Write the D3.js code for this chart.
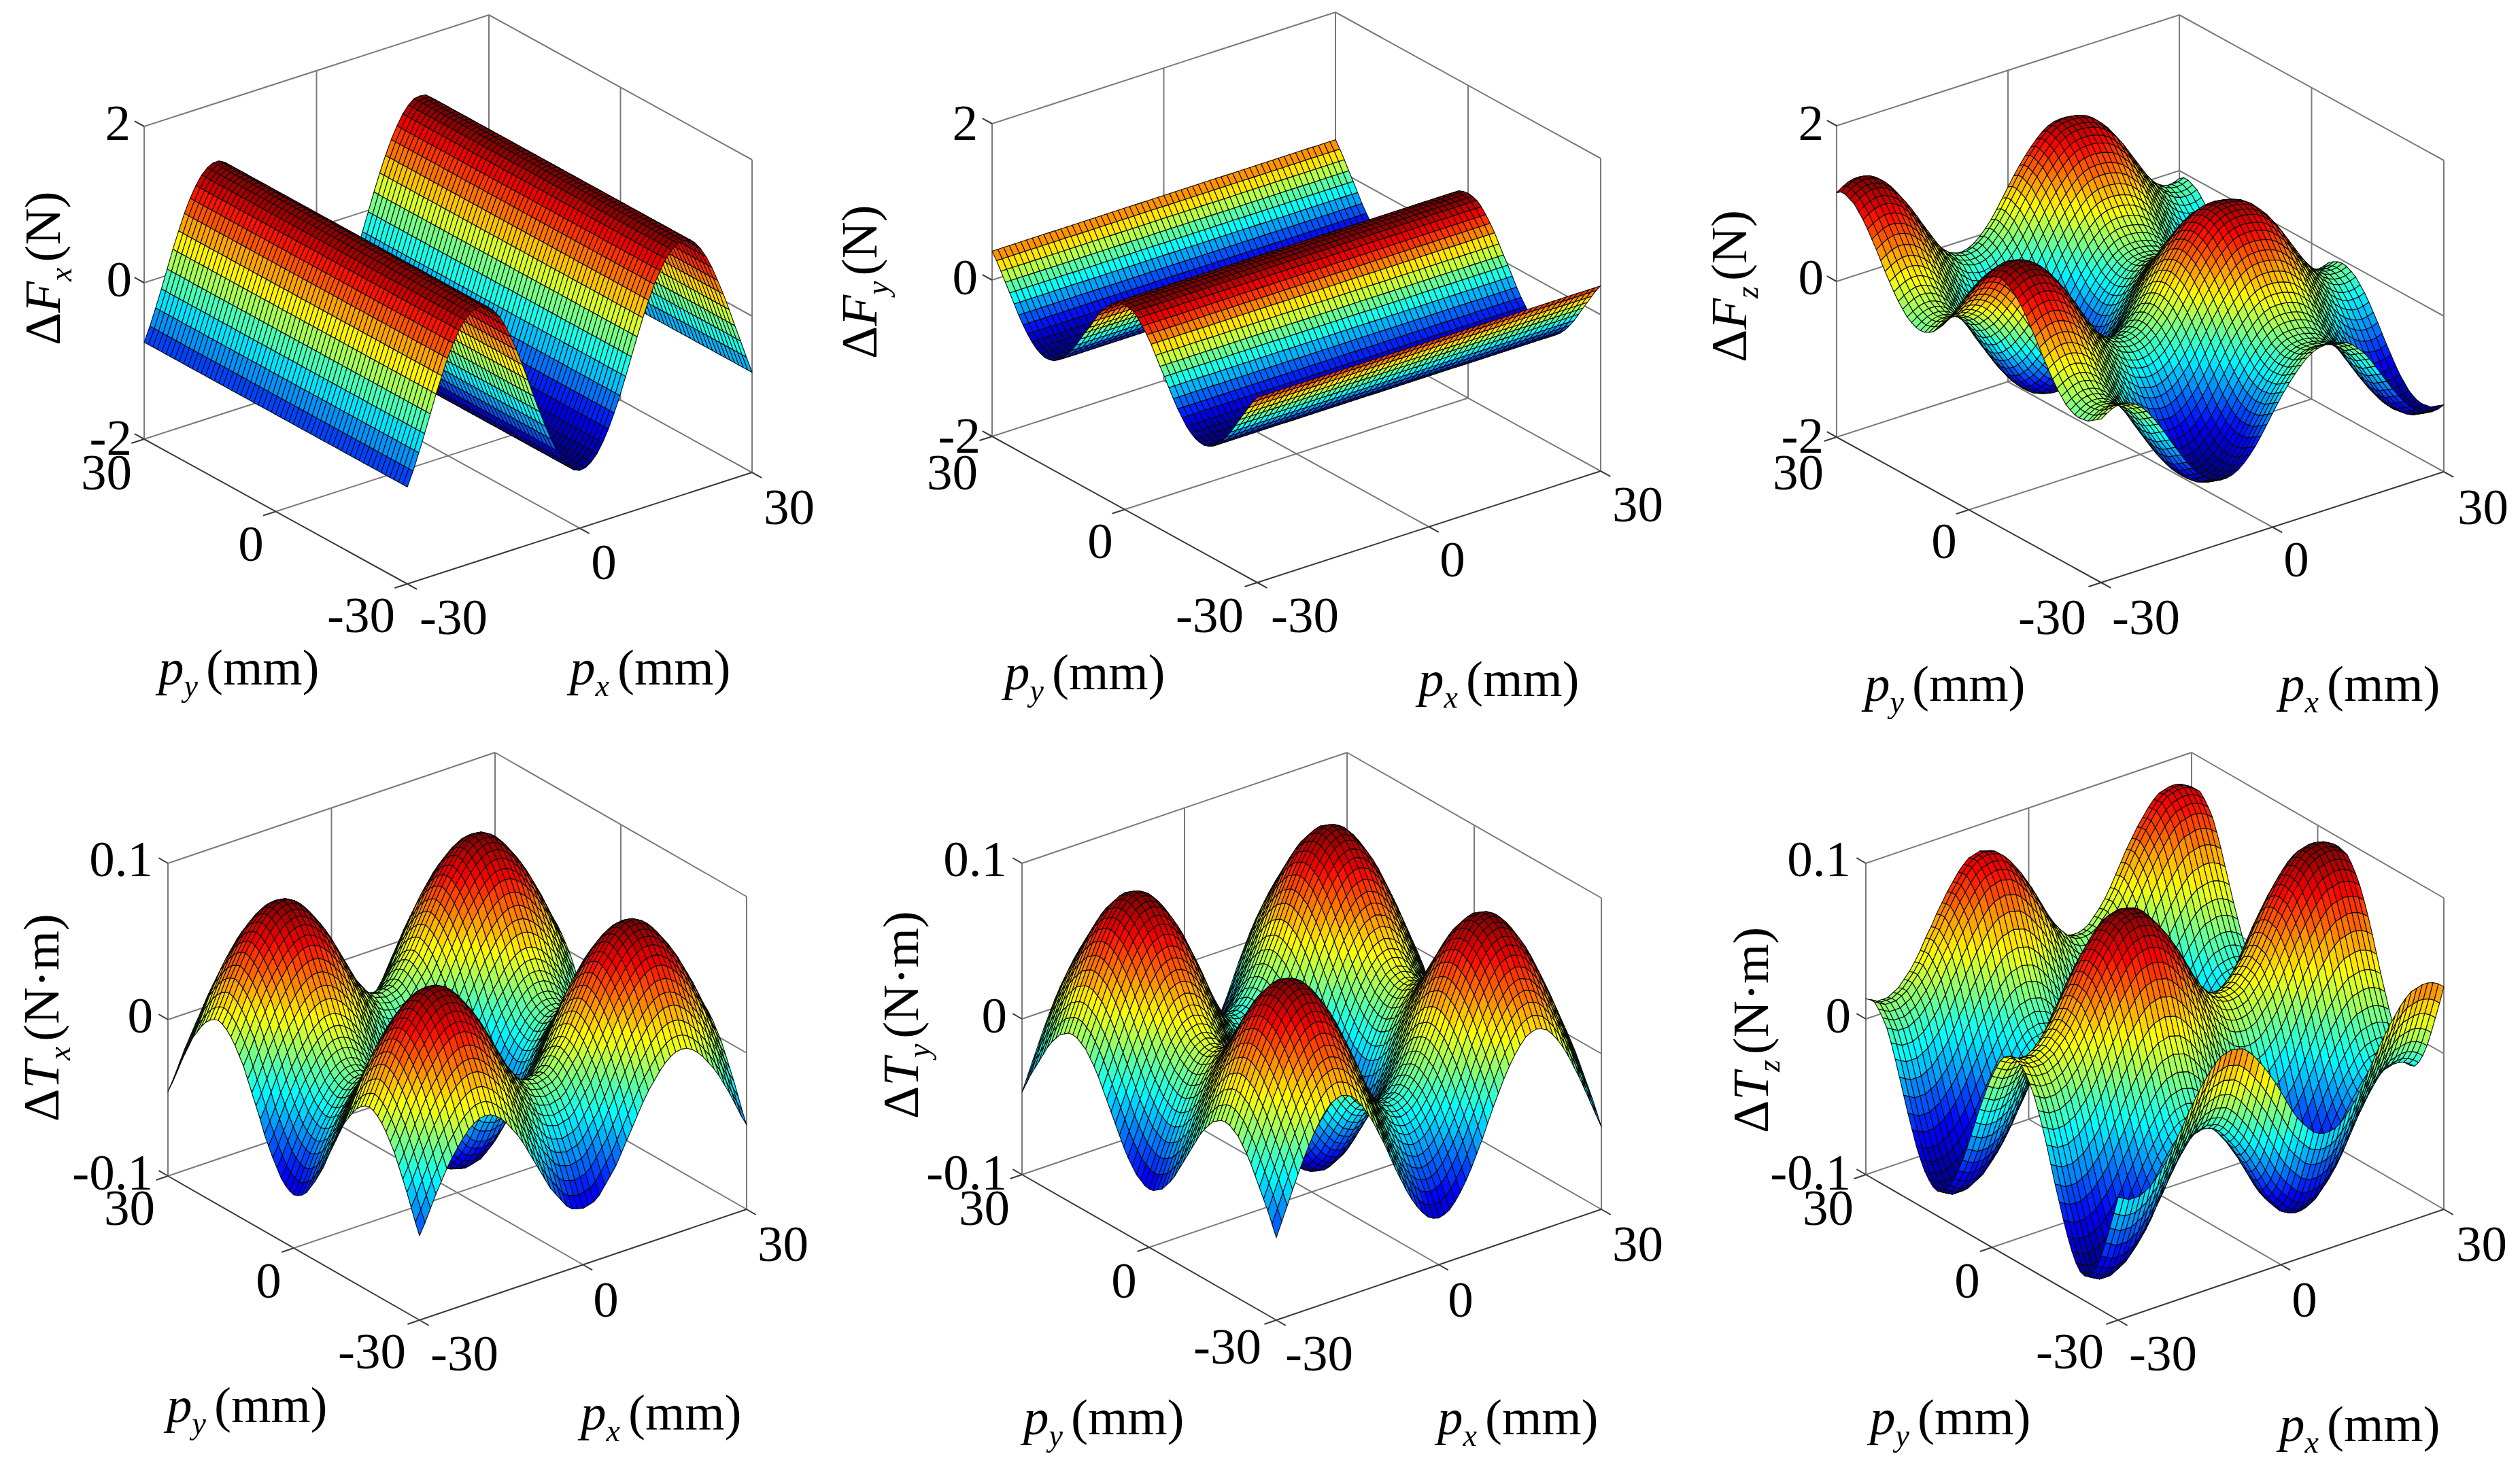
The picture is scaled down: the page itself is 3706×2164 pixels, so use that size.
<!DOCTYPE html>
<html>
<head>
<meta charset="utf-8">
<title>Force and torque error surfaces</title>
<script src="https://cdn.jsdelivr.net/npm/d3@7/dist/d3.min.js"></script>
<style>
html, body { margin: 0; padding: 0; background: #fff; }
svg { display: block; filter: blur(0.7px); }
text { font-family: "Liberation Serif", "Times New Roman", serif; fill: #000; }
</style>
</head>
<body>
<div id="chart"></div>
<script>
// grid positions, mm (1 mm step, index 0 is -30)
var gridMm = d3.range(-30, 31);
var positionTicks = [-30, 0, 30];
var forceTicks = [-2, 0, 2];
var torqueTicks = [-0.1, 0, 0.1];

// Profiles. Each surface is read as a profile along px
// plus a profile along py; dFx only changes with px and dFy only with py.
var dFxAlongPx = [-.76,-.58,-.37,-.15,.08,.31,.52,.72,.89,1.03,1.14,1.21,1.25,1.25,1.21,1.14,1.04,.90,.73,.54,.33,.11,-.12,-.34,-.55,-.74,-.91,-1.05,-1.16,-1.23,-1.26,-1.25,-1.20,-1.12,-1.00,-.85,-.67,-.47,-.25,-.02,.21,.43,.63,.81,.96,1.09,1.18,1.24,1.25,1.24,1.18,1.08,.95,.79,.60,.40,.18,-.05,-.27,-.50,-.72];

var dFyAlongPy = [.37,.28,.175,.065,-.04,-.15,-.26,-.355,-.44,-.51,-.565,-.60,-.62,-.615,-.595,-.555,-.50,-.42,-.34,-.24,-.13,-.02,.08,.19,.30,.39,.47,.54,.59,.61,.62,.61,.59,.54,.47,.39,.30,.19,.08,-.02,-.13,-.24,-.34,-.42,-.50,-.555,-.595,-.615,-.62,-.60,-.565,-.51,-.44,-.355,-.26,-.15,-.04,.065,.175,.28,.37];

var dFzAlongPx = [.58,.63,.67,.69,.69,.67,.63,.57,.49,.39,.28,.16,.03,-.09,-.21,-.33,-.43,-.52,-.59,-.65,-.68,-.70,-.70,-.68,-.64,-.58,-.50,-.41,-.30,-.18,-.06,.06,.17,.27,.36,.44,.51,.56,.59,.60,.60,.59,.57,.54,.49,.42,.34,.24,.12,0,-.12,-.24,-.35,-.45,-.54,-.61,-.66,-.69,-.70,-.69,-.66];
var dFzAlongPy = [-.48,-.52,-.56,-.60,-.61,-.62,-.61,-.58,-.54,-.47,-.40,-.31,-.21,-.11,0,.11,.21,.31,.40,.47,.54,.58,.61,.62,.61,.58,.54,.47,.40,.31,.21,.11,0,-.11,-.21,-.31,-.40,-.47,-.54,-.58,-.61,-.62,-.61,-.58,-.54,-.47,-.40,-.31,-.21,-.11,0,.11,.21,.31,.40,.47,.54,.57,.60,.60,.56];

var dTxAlongPx = [-.023,-.016,-.008,.000,.007,.014,.020,.025,.030,.034,.037,.039,.0395,.039,.037,.034,.030,.025,.020,.014,.007,.000,-.007,-.014,-.021,-.026,-.031,-.036,-.039,-.040,-.041,-.040,-.039,-.036,-.031,-.026,-.021,-.014,-.007,.000,.007,.014,.020,.025,.030,.034,.037,.039,.0395,.039,.037,.034,.030,.025,.020,.014,.007,.000,-.008,-.016,-.023];
var dTxAlongPy = [-.023,-.016,-.008,.000,.007,.014,.021,.026,.031,.035,.038,.040,.041,.040,.038,.035,.031,.026,.021,.014,.007,.000,-.007,-.015,-.021,-.027,-.032,-.037,-.040,-.042,-.043,-.042,-.040,-.037,-.032,-.027,-.021,-.015,-.007,.000,.007,.014,.021,.026,.031,.035,.038,.040,.041,.040,.038,.035,.031,.026,.021,.014,.007,.000,-.008,-.016,-.023];

var dTyAlongPx = [-.027,-.018,-.009,.000,.009,.017,.025,.032,.038,.043,.047,.049,.050,.049,.047,.043,.038,.032,.025,.017,.009,.000,-.009,-.017,-.025,-.032,-.038,-.043,-.047,-.049,-.050,-.049,-.047,-.043,-.038,-.032,-.025,-.017,-.009,.000,.009,.017,.025,.032,.038,.043,.047,.049,.050,.049,.047,.043,.038,.032,.025,.017,.009,.000,-.009,-.018,-.027];
var dTyAlongPy = [-.020,-.013,-.006,.000,.006,.012,.018,.023,.027,.031,.033,.035,.0355,.035,.033,.031,.027,.023,.018,.012,.006,.000,-.006,-.012,-.018,-.023,-.027,-.031,-.033,-.035,-.0355,-.035,-.033,-.031,-.027,-.023,-.018,-.012,-.006,.000,.006,.012,.018,.023,.027,.031,.033,.035,.0355,.035,.033,.031,.027,.023,.018,.012,.006,.000,-.006,-.013,-.020];

var dTzAlongPx = [-.027,-.029,-.031,-.031,-.031,-.029,-.027,-.023,-.019,-.014,-.008,-.001,.005,.012,.018,.024,.029,.034,.038,.041,.042,.043,.042,.041,.038,.034,.029,.024,.018,.012,.005,-.002,-.009,-.015,-.020,-.024,-.028,-.030,-.031,-.031,-.030,-.028,-.024,-.020,-.015,-.009,-.002,.005,.012,.018,.024,.029,.034,.038,.041,.042,.043,.043,.042,.040,.037];
var dTzAlongPy = [.006,-.006,-.017,-.028,-.038,-.046,-.052,-.056,-.057,-.056,-.052,-.046,-.038,-.029,-.019,-.009,.002,.013,.023,.032,.040,.046,.051,.055,.056,.057,.056,.054,.050,.044,.037,.029,.020,.011,.001,-.009,-.019,-.028,-.036,-.043,-.049,-.053,-.056,-.057,-.056,-.053,-.049,-.043,-.036,-.027,-.018,-.008,.002,.012,.021,.029,.034,.038,.041,.041,.040];

// jet colormap stops
var jetStops = [0, .125, .375, .625, .875, 1];
var jetColors = ['#00008f', '#0000ff', '#00ffff', '#ffff00', '#ff0000', '#800000'];
var jetLevels = 64;

var width = 3706;
var height = 2164;
var fontSize = 75;
var subSize = 46;
var greyLine = '#7a7a7a';
var darkLine = '#3a3a3a';

// box corners in page pixels, then where the texts sit
var panels = [
    {symbol: 'F', sub: 'x', unit: '(N)', alongPx: dFxAlongPx, alongPy: null, zTicks: forceTicks,
     left: [212, 646], front: [599, 859], right: [1106, 695], boxHeight: 460,
     zLabels: [[194, 669], [194, 436], [192, 206]],
     pyLabels: [[581, 930], [369, 825], [194, 720]],
     pxLabels: [[617, 933], [888, 852], [1123, 771]],
     pyTitle: [233, 1007], pxTitle: [838, 1007], zTitle: [88, 508]},
    {symbol: 'F', sub: 'y', unit: '(N)', alongPx: null, alongPy: dFyAlongPy, zTicks: forceTicks,
     left: [1459, 642], front: [1849, 857], right: [2354, 693], boxHeight: 460,
     zLabels: [[1442, 666], [1438, 433], [1438, 206]],
     pyLabels: [[1829, 930], [1618, 821], [1438, 720]],
     pxLabels: [[1869, 930], [2136, 848], [2371, 767]],
     pyTitle: [1477, 1014], pxTitle: [2086, 1024], zTitle: [1289, 528]},
    {symbol: 'F', sub: 'z', unit: '(N)', alongPx: dFzAlongPx, alongPy: dFzAlongPy, zTicks: forceTicks,
     left: [2701, 643], front: [3090, 857], right: [3594, 694], boxHeight: 458,
     zLabels: [[2682, 666], [2682, 433], [2682, 206]],
     pyLabels: [[3068, 933], [2859, 821], [2682, 720]],
     pxLabels: [[3106, 933], [3377, 848], [3614, 771]],
     pyTitle: [2742, 1031], pxTitle: [3352, 1031], zTitle: [2568, 533]},
    {symbol: 'T', sub: 'x', unit: '(N·m)', alongPx: dTxAlongPx, alongPy: dTxAlongPy, zTicks: torqueTicks,
     left: [247, 1730], front: [617, 1942], right: [1098, 1779], boxHeight: 460,
     zLabels: [[225, 1750], [225, 1519], [225, 1289]],
     pyLabels: [[597, 2013], [395, 1909], [228, 1802]],
     pxLabels: [[633, 2016], [891, 1937], [1114, 1855]],
     pyTitle: [245, 2092], pxTitle: [854, 2103], zTitle: [86, 1650]},
    {symbol: 'T', sub: 'y', unit: '(N·m)', alongPx: dTyAlongPx, alongPy: dTyAlongPy, zTicks: torqueTicks,
     left: [1503, 1728], front: [1877, 1942], right: [2355, 1779], boxHeight: 458,
     zLabels: [[1481, 1750], [1481, 1519], [1481, 1289]],
     pyLabels: [[1855, 2006], [1653, 1909], [1485, 1802]],
     pxLabels: [[1890, 2016], [2148, 1937], [2371, 1855]],
     pyTitle: [1505, 2110], pxTitle: [2114, 2110], zTitle: [1350, 1646]},
    {symbol: 'T', sub: 'z', unit: '(N·m)', alongPx: dTzAlongPx, alongPy: dTzAlongPy, zTicks: torqueTicks,
     left: [2744, 1728], front: [3115, 1942], right: [3594, 1779], boxHeight: 458,
     zLabels: [[2722, 1750], [2722, 1519], [2722, 1289]],
     pyLabels: [[3094, 2013], [2893, 1909], [2726, 1802]],
     pxLabels: [[3131, 2016], [3389, 1937], [3612, 1855]],
     pyTitle: [2750, 2110], pxTitle: [3352, 2120], zTitle: [2600, 1667]}
];

var jet = d3.scaleLinear().domain(jetStops).range(jetColors);
var outline = d3.line().curve(d3.curveLinearClosed);

var svg = d3.select('#chart').append('svg')
    .attr('width', width)
    .attr('height', height)
    .attr('viewBox', '0 0 ' + width + ' ' + height);

function get_projection(panel) {
    var pxX = d3.scaleLinear().domain([-30, 30]).range([0, panel.right[0] - panel.front[0]]);
    var pxY = d3.scaleLinear().domain([-30, 30]).range([0, panel.right[1] - panel.front[1]]);
    var pyX = d3.scaleLinear().domain([-30, 30]).range([0, panel.left[0] - panel.front[0]]);
    var pyY = d3.scaleLinear().domain([-30, 30]).range([0, panel.left[1] - panel.front[1]]);
    var zY = d3.scaleLinear().domain(d3.extent(panel.zTicks)).range([0, -panel.boxHeight]);
    return function (px, py, z) {
        return [panel.front[0] + pxX(px) + pyX(py), panel.front[1] + pxY(px) + pyY(py) + zY(z)];
    };
}

function surface_value(panel, i, j) {
    return (panel.alongPx ? panel.alongPx[i] : 0) + (panel.alongPy ? panel.alongPy[j] : 0);
}

function draw_box(g, panel, project) {
    var zMin = panel.zTicks[0];
    var zMax = panel.zTicks[2];
    var lines = [
        // back walls
        [[-30, 30, zMax], [30, 30, zMax]], [[30, 30, zMax], [30, -30, zMax]],
        [[-30, 30, zMin], [30, 30, zMin]], [[30, 30, zMin], [30, -30, zMin]],
        [[-30, 30, zMin], [-30, 30, zMax]], [[30, 30, zMin], [30, 30, zMax]], [[30, -30, zMin], [30, -30, zMax]],
        // zero grid lines
        [[-30, 30, 0], [30, 30, 0]], [[30, 30, 0], [30, -30, 0]],
        [[0, 30, zMin], [0, 30, zMax]], [[30, 0, zMin], [30, 0, zMax]],
        [[0, -30, zMin], [0, 30, zMin]], [[-30, 0, zMin], [30, 0, zMin]]
    ];
    g.append('g').selectAll('line').data(lines).enter().append('line')
        .attr('x1', function (d) { return project(d[0][0], d[0][1], d[0][2])[0]; })
        .attr('y1', function (d) { return project(d[0][0], d[0][1], d[0][2])[1]; })
        .attr('x2', function (d) { return project(d[1][0], d[1][1], d[1][2])[0]; })
        .attr('y2', function (d) { return project(d[1][0], d[1][1], d[1][2])[1]; })
        .attr('stroke', greyLine)
        .attr('stroke-width', 2);

    var stub = 2.2; // tick length, in mm along the axis direction
    var axes = [[[-30, 30, zMin], [-30, -30, zMin]], [[-30, -30, zMin], [30, -30, zMin]]];
    positionTicks.forEach(function (t) {
        axes.push([[t, -30, zMin], [t, -30 - stub, zMin]]);
        axes.push([[-30, t, zMin], [-30 - stub, t, zMin]]);
    });
    panel.zTicks.forEach(function (t) {
        axes.push([[-30, 30, t], [-30, 30 + stub, t]]);
    });
    g.append('g').selectAll('line').data(axes).enter().append('line')
        .attr('x1', function (d) { return project(d[0][0], d[0][1], d[0][2])[0]; })
        .attr('y1', function (d) { return project(d[0][0], d[0][1], d[0][2])[1]; })
        .attr('x2', function (d) { return project(d[1][0], d[1][1], d[1][2])[0]; })
        .attr('y2', function (d) { return project(d[1][0], d[1][1], d[1][2])[1]; })
        .attr('stroke', darkLine)
        .attr('stroke-width', 2);
}

function draw_surface(g, panel, project) {
    var cells = [];
    var values = [];
    var i, j;
    for (j = gridMm.length - 1; j >= 0; j--) {
        for (i = gridMm.length - 1; i >= 0; i--) {
            values.push(surface_value(panel, i, j));
            if (i < gridMm.length - 1 && j < gridMm.length - 1) {
                cells.push([i, j]);
            }
        }
    }
    var colorLevel = d3.scaleQuantize()
        .domain(d3.extent(values))
        .range(d3.range(jetLevels).map(function (k) { return jet(k / (jetLevels - 1)); }));

    g.append('g').selectAll('path').data(cells).enter().append('path')
        .attr('d', function (d) {
            var a = d[0], b = d[1];
            return outline([[a, b], [a + 1, b], [a + 1, b + 1], [a, b + 1]].map(function (v) {
                return project(gridMm[v[0]], gridMm[v[1]], surface_value(panel, v[0], v[1]));
            }));
        })
        .attr('fill', function (d) { return colorLevel(surface_value(panel, d[0], d[1])); })
        .attr('stroke', '#0a0a0a')
        .attr('stroke-width', 1.1)
        .attr('stroke-linejoin', 'round');
}

function add_tick_text(g, value, pos, anchor) {
    g.append('text')
        .attr('x', pos[0])
        .attr('y', pos[1])
        .attr('text-anchor', anchor)
        .attr('font-size', fontSize)
        .text(String(value));
}

function add_title(g, pos, rotated, parts) {
    var t = g.append('text')
        .attr('font-size', fontSize);
    if (rotated) {
        t.attr('transform', 'translate(' + pos[0] + ',' + pos[1] + ') rotate(-90)');
    } else {
        t.attr('x', pos[0]).attr('y', pos[1]);
    }
    var shift = 0;
    parts.forEach(function (p) {
        var s = t.append('tspan').text(p.text);
        if (p.italic) { s.attr('font-style', 'italic'); }
        if (p.sub) { s.attr('font-size', subSize); }
        if (p.gap) { s.attr('dx', p.gap); }
        var target = p.sub ? 17 : 0;
        if (target !== shift) { s.attr('dy', target - shift); shift = target; }
    });
}

function draw_texts(g, panel) {
    panel.zTicks.forEach(function (t, k) {
        add_tick_text(g, t, panel.zLabels[k], 'end');
    });
    positionTicks.forEach(function (t, k) {
        add_tick_text(g, t, panel.pyLabels[k], k === 1 ? 'middle' : 'end');
        add_tick_text(g, t, panel.pxLabels[k], k === 1 ? 'middle' : 'start');
    });
    add_title(g, panel.pyTitle, false, [{text: 'p', italic: true}, {text: 'y', italic: true, sub: true}, {text: '(mm)', gap: 12}]);
    add_title(g, panel.pxTitle, false, [{text: 'p', italic: true}, {text: 'x', italic: true, sub: true}, {text: '(mm)', gap: 12}]);
    add_title(g, panel.zTitle, true, [{text: 'Δ'}, {text: panel.symbol, italic: true}, {text: panel.sub, italic: true, sub: true}, {text: panel.unit, gap: 8}]);
}

panels.forEach(function (panel) {
    var project = get_projection(panel);
    var g = svg.append('g').attr('class', 'panel');
    draw_box(g, panel, project);
    draw_surface(g, panel, project);
    draw_texts(g, panel);
});
</script>
</body>
</html>
